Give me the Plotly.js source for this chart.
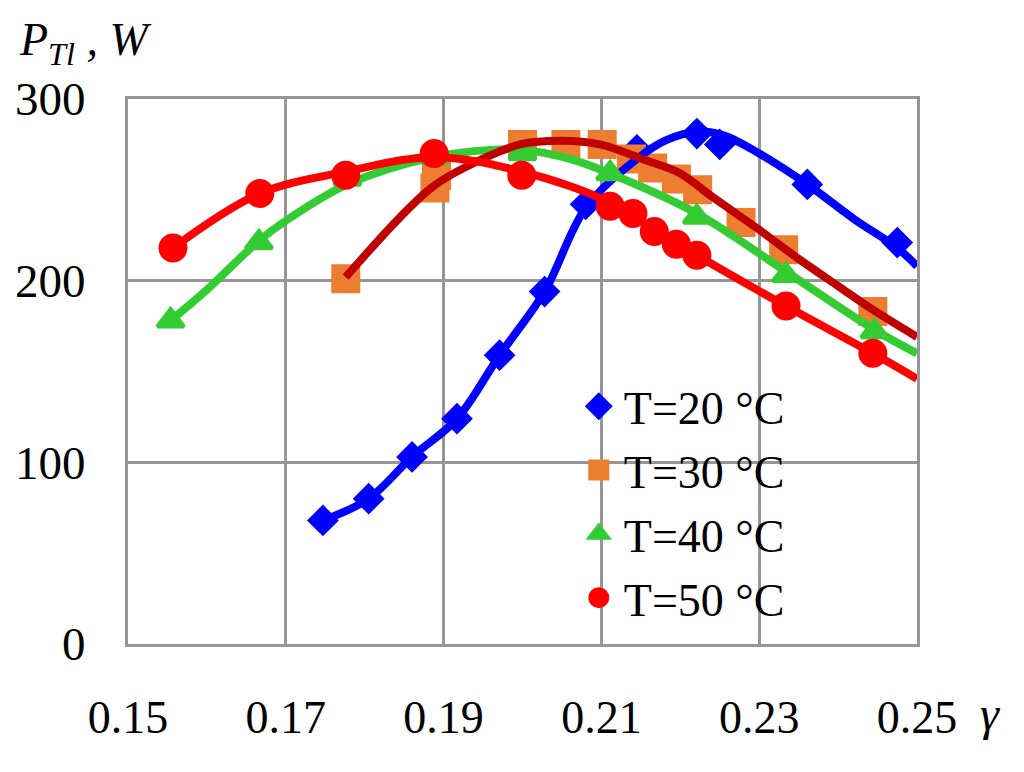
<!DOCTYPE html>
<html>
<head>
<meta charset="utf-8">
<script src="https://cdn.plot.ly/plotly-3.0.1.min.js"></script>
<style>
body{margin:0;padding:0;background:#fff;}
#chart{width:1024px;height:772px;}
</style>
</head>
<body>
<div id="chart"></div>
<script>
// measured points
var T20_x=[0.1747,0.1805,0.1860,0.1917,0.1971,0.2028,0.2080,0.2145,0.2221,0.2250,0.2361,0.2475];
var T20_y=[68,80,103,124,159,194,242,272,281,275,253,221];
var T30_x=[0.1776,0.1889,0.1891,0.2000,0.2055,0.2101,0.2138,0.2165,0.2195,0.2222,0.2277,0.2331,0.2444];
var T30_y=[201,251,258,275,275,275,267,262,256,250,232,217,183];
var T40_x=[0.1554,0.1666,0.1778,0.1889,0.2000,0.2111,0.2221,0.2334,0.2446];
var T40_y=[178,221,256,268,270,259,235,203,172];
var T50_x=[0.1557,0.1667,0.1776,0.1888,0.1999,0.2111,0.2140,0.2167,0.2195,0.2221,0.2334,0.2444];
var T50_y=[218,248,258,270,258,241,237,227,220,214,186,160];

// fitted curves
var fit20_x=[0.1747,0.1805,0.1860,0.1917,0.1971,0.2028,0.2080,0.2145,0.2180,0.2221,0.2255,0.2300,0.2361,0.2420,0.2475,0.2500];
var fit20_y=[68,80,103,124,159,194,240,267,277,282,280,270,253,234,218,208];
var fit30_x=[0.1776,0.1845,0.1887,0.1930,0.1997,0.2050,0.2098,0.2158,0.2200,0.2241,0.2300,0.2350,0.2400,0.2444,0.2500];
var fit30_y=[202,235,252,263,275,277,275,266,259,246,228,212,197,184,169];
var fit40_x=[0.1554,0.1600,0.1666,0.1700,0.1778,0.1887,0.1960,0.2000,0.2060,0.2111,0.2221,0.2334,0.2446,0.2500];
var fit40_y=[178,195,222,233,253,268,272,272,267,259,237,205,173,160];
var fit50_x=[0.1557,0.1667,0.1776,0.1888,0.1999,0.2111,0.2167,0.2221,0.2334,0.2444,0.2500];
var fit50_y=[218,248,260,268,260,243,228,214,186,160,146];

var names=['T=20 °C','T=30 °C','T=40 °C','T=50 °C'];
var xticks=[0.15,0.17,0.19,0.21,0.23,0.25];

var FONT='"Liberation Serif","Times New Roman",serif';

function markTrace(X,Y,name,color,symbol,size,lw){
	return {
		x:X, y:Y, type:'scatter', mode:'markers', name:name,
		legendgroup:name,
		marker:{color:color, symbol:symbol, size:size, line:{color:color,width:lw}},
		hoverinfo:'x+y'
	};
}
function lineTrace(X,Y,color){
	return {
		x:X, y:Y, type:'scatter', mode:'lines', showlegend:false,
		line:{color:color,width:8,shape:'spline',smoothing:1},
		hoverinfo:'skip'
	};
}

function disp_chart(chartname){
	var PLOTMASTER=document.getElementById(chartname);
	var data=[
		markTrace(T20_x,T20_y,names[0],'#0000FF','diamond',19,5),
		markTrace(T30_x,T30_y,names[1],'#ED7D31','square',24,5),
		lineTrace(fit20_x,fit20_y,'#0000FF'),
		lineTrace(fit40_x,fit40_y,'#33CC33'),
		markTrace(T40_x,T40_y,names[2],'#33CC33','triangle-up',23,4),
		lineTrace(fit30_x,fit30_y,'#C00000'),
		lineTrace(fit50_x,fit50_y,'#FF0000'),
		markTrace(T50_x,T50_y,names[3],'#FF0000','circle',24,5)
	];
	var layout={
		width:1024, height:772,
		margin:{l:128,r:107,t:99,b:128,pad:0},
		paper_bgcolor:'#fff', plot_bgcolor:'#fff',
		font:{family:FONT,color:'#000'},
		xaxis:{
			range:[0.15,0.25], tickvals:xticks, tickformat:'.2f',
			showgrid:true, gridcolor:'#969696', gridwidth:3,
			showline:true, mirror:true, linecolor:'#969696', linewidth:3,
			zeroline:false, ticks:'', ticklabelstandoff:31,
			tickfont:{family:FONT,size:46,color:'#000'}
		},
		yaxis:{
			range:[0,300], dtick:100, tick0:0,
			showgrid:true, gridcolor:'#969696', gridwidth:3,
			showline:true, mirror:true, linecolor:'#969696', linewidth:3,
			zeroline:false, ticks:'', ticklabelstandoff:30,
			tickfont:{family:FONT,size:47,color:'#000'}
		},
		legend:{
			x:0.565, y:0.503, xanchor:'left', yanchor:'top',
			bgcolor:'rgba(0,0,0,0)', borderwidth:0,
			itemwidth:40, tracegroupgap:1,
			font:{family:FONT,size:46,color:'#000'}
		},
		shapes:[{
			type:'rect', xref:'paper', yref:'paper', layer:'between',
			x0:0.5057, x1:0.8847, y0:0.022, y1:0.4972,
			fillcolor:'#fff', line:{width:0}
		}],
		annotations:[
			{text:'P<sub>Tl</sub> , W', xref:'paper', yref:'paper', x:-0.141, y:1.102,
			 xanchor:'left', yanchor:'middle', showarrow:false,
			 font:{family:FONT,size:46,color:'#000',style:'italic'}},
			{text:'γ', xref:'paper', yref:'paper', x:1.0925, y:-0.127,
			 xanchor:'center', yanchor:'middle', showarrow:false,
			 font:{family:FONT,size:48,color:'#000',style:'italic'}}
		],
		showlegend:true
	};
	Plotly.newPlot(PLOTMASTER,data,layout,{staticPlot:true});
}
disp_chart('chart');
</script>
</body>
</html>
